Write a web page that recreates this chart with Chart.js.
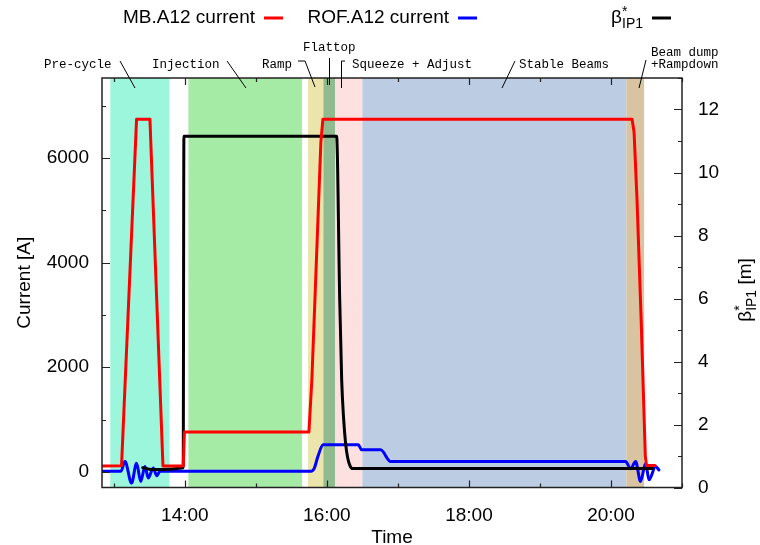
<!DOCTYPE html>
<html>
<head>
<meta charset="utf-8">
<script src="https://cdn.jsdelivr.net/npm/chart.js@4.4.1/dist/chart.umd.min.js"></script>
<style>
  html, body { margin: 0; padding: 0; background: #fff; }
</style>
</head>
<body>
<canvas id="lhc-chart" width="760" height="545"></canvas>
<script>
// time is minutes since midnight
const mbTime = [770, 786.5, 799.2, 810.5, 821.5, 838.7, 839.6, 944.8, 947.3, 949.9, 952.4, 954.9, 956.6, 1217.8, 1219.5, 1222.0, 1225.5, 1229.0, 1230.0, 1237.3]
const mbCurrent = [110, 115, 6740, 6740, 110, 110, 760, 760, 1760, 3300, 4800, 6300, 6740, 6740, 6500, 5200, 2900, 300, 120, 120]

const rofTime = [770, 786, 789.4, 795, 799.2, 802.7, 806.3, 809.1, 813.3, 816.2, 819, 946.6, 949.2, 952.5, 956.8, 986.5, 989.4, 1005.4, 1013.8, 1212.4, 1216.6, 1220.8, 1225, 1229.3, 1232.1, 1237.7, 1240.5]
const rofCurrent = [10, 10, 197, -216, 166, -185, 101, -120, 71, -76, 10, 10, 60, 300, 516, 516, 420, 420, 197, 197, 57, 197, -185, 166, -153, 101, 38]

const betaTime = [804.4, 812, 838.6, 839.2, 968.2, 970.8, 972.5, 974.1, 975.8, 977.5, 979.2, 981.7, 1216.6, 1235.4]
const betaValue = [0.63, 0.57, 0.63, 11.15, 11.15, 6.0, 3.4, 2.2, 1.4, 0.95, 0.72, 0.6, 0.6, 0.6]

const phaseStart = [777, 843, 944, 957, 967, 990, 1213]
const phaseEnd = [827, 939, 957, 967, 990, 1213, 1228]
const phaseColors = ["#9cf6db", "#a5eaa5", "#ebe5ab", "#8fbb8f", "#fde0e0", "#bccde3", "#d9c4a2"]

const xTickValues = [840, 960, 1080, 1200]
const xTickLabels = ["14:00", "16:00", "18:00", "20:00"]
const xMinorTicks = [780, 840, 900, 960, 1020, 1080, 1140, 1200, 1260]
const yTickValues = [0, 2000, 4000, 6000]
const yMinorTicks = [0, 1000, 2000, 3000, 4000, 5000, 6000, 7000]
const y2TickValues = [0, 2, 4, 6, 8, 10, 12]
const y2MinorTicks = [0, 1, 2, 3, 4, 5, 6, 7, 8, 9, 10, 11, 12, 13]

const SANS = '"Liberation Sans", Arial, sans-serif'
const MONO = '"Liberation Mono", "Courier New", monospace'

function pts(xs, ys) {
  return xs.map((x, i) => ({ x: x, y: ys[i] }))
}

// beta*_IP1 with super/subscript, drawn left to right from x
function drawBeta(ctx, x, y, size) {
  ctx.textAlign = 'left'
  ctx.font = size + 'px ' + SANS
  ctx.fillText('β', x, y)
  let w = ctx.measureText('β').width
  ctx.font = Math.round(size * 0.75) + 'px ' + SANS
  ctx.fillText('*', x + w, y - size * 0.3)
  ctx.fillText('IP1', x + w, y + size * 0.3)
  w += ctx.measureText('IP1').width
  return w
}
function betaWidth(ctx, size) {
  ctx.font = size + 'px ' + SANS
  let w = ctx.measureText('β').width
  ctx.font = Math.round(size * 0.75) + 'px ' + SANS
  return w + ctx.measureText('IP1').width
}

const phaseBands = {
  id: 'phaseBands',
  beforeDatasetsDraw(chart) {
    const { ctx, chartArea: a, scales: { x } } = chart
    ctx.save()
    for (let i = 0; i < phaseStart.length; i++) {
      const x0 = x.getPixelForValue(phaseStart[i])
      const x1 = x.getPixelForValue(phaseEnd[i])
      ctx.fillStyle = phaseColors[i]
      ctx.fillRect(x0, a.top, x1 - x0, a.bottom - a.top)
    }
    ctx.restore()
  }
}

const frameAndTicks = {
  id: 'frameAndTicks',
  afterDatasetsDraw(chart) {
    const { ctx, chartArea: a, scales: { x, y, y2 } } = chart
    ctx.save()
    ctx.strokeStyle = '#222'
    ctx.lineWidth = 1.2
    ctx.beginPath()
    xMinorTicks.forEach(t => {
      const px = Math.round(x.getPixelForValue(t)) + 0.5
      const len = xTickValues.includes(t) ? 7 : 4
      ctx.moveTo(px, a.bottom); ctx.lineTo(px, a.bottom - len)
      ctx.moveTo(px, a.top); ctx.lineTo(px, a.top + len)
    })
    yMinorTicks.forEach(t => {
      const py = Math.round(y.getPixelForValue(t)) + 0.5
      const len = yTickValues.includes(t) ? 8 : 4
      ctx.moveTo(a.left, py); ctx.lineTo(a.left + len, py)
    })
    y2MinorTicks.forEach(t => {
      const py = Math.round(y2.getPixelForValue(t)) + 0.5
      const len = y2TickValues.includes(t) ? 8 : 4
      ctx.moveTo(a.right, py); ctx.lineTo(a.right - len, py)
    })
    ctx.stroke()
    ctx.lineWidth = 1.5
    ctx.strokeRect(a.left, a.top, a.right - a.left, a.bottom - a.top)
    ctx.restore()
  },
  afterDraw(chart) {
    const { ctx } = chart
    ctx.save()
    ctx.fillStyle = '#000'
    ctx.textBaseline = 'middle'

    // key
    const keyY = 18
    ctx.font = '19px ' + SANS
    ctx.textAlign = 'right'
    ctx.fillText('MB.A12 current', 255, keyY)
    ctx.fillText('ROF.A12 current', 449, keyY)
    drawBeta(ctx, 643 - betaWidth(ctx, 19), keyY, 19)
    ctx.lineWidth = 3
    ;[['#ff0000', 264], ['#0000ff', 458], ['#000000', 652]].forEach(([c, sx]) => {
      ctx.strokeStyle = c
      ctx.beginPath(); ctx.moveTo(sx, keyY); ctx.lineTo(sx + 19, keyY); ctx.stroke()
    })

    // right axis title
    ctx.save()
    ctx.translate(746, 290)
    ctx.rotate(-Math.PI / 2)
    ctx.font = '19px ' + SANS
    const bw = betaWidth(ctx, 19)
    ctx.font = '19px ' + SANS
    const tw = ctx.measureText(' [m]').width
    const sx = -(bw + tw) / 2
    drawBeta(ctx, sx, 0, 19)
    ctx.font = '19px ' + SANS
    ctx.textAlign = 'left'
    ctx.fillText(' [m]', sx + bw, 0)
    ctx.restore()

    // phase labels
    ctx.font = '12.5px ' + MONO
    ctx.textAlign = 'left'
    ctx.fillText('Pre-cycle', 44, 65)
    ctx.fillText('Injection', 152, 65)
    ctx.fillText('Ramp', 262, 65)
    ctx.fillText('Flattop', 303, 48)
    ctx.fillText('Squeeze + Adjust', 352, 65)
    ctx.fillText('Stable Beams', 519, 65)
    ctx.fillText('Beam dump', 651, 53)
    ctx.fillText('+Rampdown', 651, 65)
    ctx.strokeStyle = '#000'
    ctx.lineWidth = 1
    ctx.beginPath()
    ctx.moveTo(120, 61); ctx.lineTo(135, 88)
    ctx.moveTo(227, 61); ctx.lineTo(246, 88)
    ctx.moveTo(298, 61); ctx.lineTo(305, 61); ctx.lineTo(315, 87)
    ctx.moveTo(329.5, 58); ctx.lineTo(329.5, 85)
    ctx.moveTo(345, 61); ctx.lineTo(341.5, 61); ctx.lineTo(341.5, 88)
    ctx.moveTo(515, 61); ctx.lineTo(502, 88)
    ctx.moveTo(646, 60); ctx.lineTo(639, 88)
    ctx.stroke()
    ctx.restore()
  }
}

const tickFont = { family: SANS, size: 19 }

new Chart(document.getElementById('lhc-chart'), {
  type: 'line',
  data: {
    datasets: [
      {
        label: 'MB.A12 current',
        data: pts(mbTime, mbCurrent),
        borderColor: '#ff0000',
        borderWidth: 3,
        yAxisID: 'y'
      },
      {
        label: 'β*IP1',
        data: pts(betaTime, betaValue),
        borderColor: '#000000',
        borderWidth: 3,
        cubicInterpolationMode: 'monotone',
        yAxisID: 'y2'
      },
      {
        label: 'ROF.A12 current',
        data: pts(rofTime, rofCurrent),
        borderColor: '#0000ff',
        borderWidth: 3,
        cubicInterpolationMode: 'monotone',
        yAxisID: 'y'
      }
    ]
  },
  options: {
    responsive: false,
    animation: false,
    devicePixelRatio: 1,
    layout: { padding: { top: 78, left: 0, right: 0, bottom: 0 } },
    elements: {
      point: { radius: 0 },
      line: { tension: 0, borderJoinStyle: 'round', borderCapStyle: 'round' }
    },
    plugins: {
      legend: { display: false },
      tooltip: { enabled: false }
    },
    scales: {
      x: {
        type: 'linear',
        min: 770,
        max: 1260,
        grid: { display: false, drawTicks: false },
        border: { display: false },
        afterBuildTicks: s => { s.ticks = xTickValues.map(v => ({ value: v })) },
        afterFit: s => { s.height = 57.5 },
        ticks: {
          autoSkip: false,
          maxRotation: 0,
          padding: 17,
          color: '#000',
          font: tickFont,
          callback: v => xTickLabels[xTickValues.indexOf(v)]
        },
        title: {
          display: true,
          text: 'Time',
          color: '#000',
          font: { family: SANS, size: 19, lineHeight: 0.8 },
          padding: { top: 0, bottom: 0 }
        }
      },
      y: {
        position: 'left',
        min: -300,
        max: 7530,
        grid: { display: false, drawTicks: false },
        border: { display: false },
        afterBuildTicks: s => { s.ticks = yTickValues.map(v => ({ value: v })) },
        afterFit: s => { s.width = 102 },
        ticks: {
          autoSkip: false,
          padding: 13,
          color: '#000',
          font: tickFont,
          callback: v => String(v)
        },
        title: {
          display: true,
          text: 'Current [A]',
          color: '#000',
          font: { family: SANS, size: 19, lineHeight: 1 },
          padding: { top: 15, bottom: 0 }
        }
      },
      y2: {
        position: 'right',
        min: 0,
        max: 13,
        grid: { display: false, drawTicks: false },
        border: { display: false },
        afterBuildTicks: s => { s.ticks = y2TickValues.map(v => ({ value: v })) },
        afterFit: s => { s.width = 78 },
        ticks: {
          autoSkip: false,
          padding: 16,
          color: '#000',
          font: tickFont
        }
      }
    }
  },
  plugins: [phaseBands, frameAndTicks]
})
</script>
</body>
</html>
